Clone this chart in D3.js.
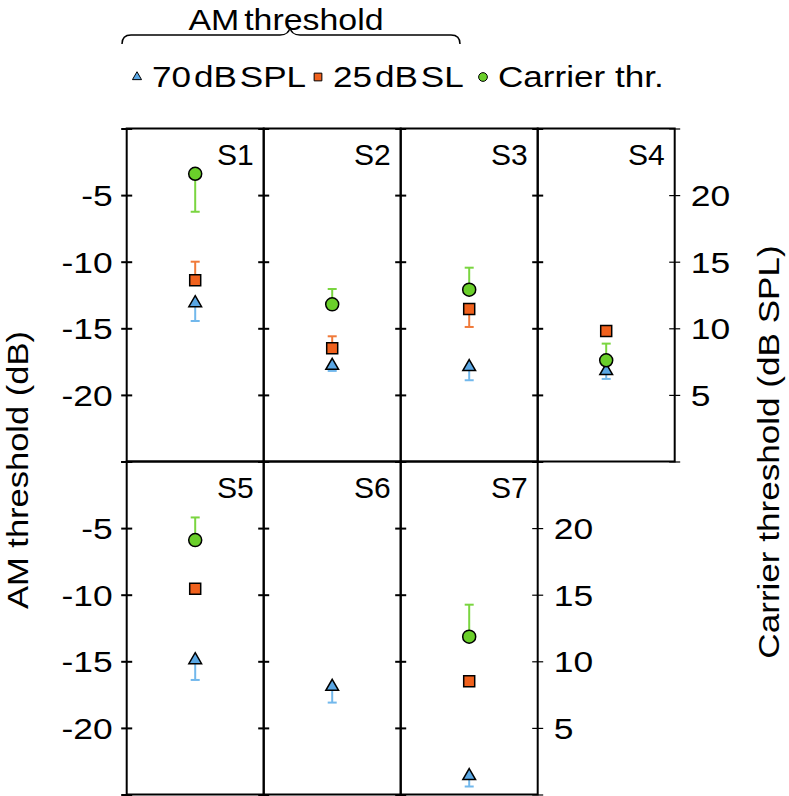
<!DOCTYPE html>
<html>
<head>
<meta charset="utf-8">
<script src="https://cdn.jsdelivr.net/npm/d3@7"></script>
<style>
  html, body { margin: 0; padding: 0; background: #fff; }
  svg { display: block; }
  text { font-family: "Liberation Sans", Arial, Helvetica, sans-serif; fill: #000; }
</style>
</head>
<body>
<svg id="chart" width="789" height="796"></svg>
<script>
// ---------------- data ----------------
const subjects = ["S1", "S2", "S3", "S4", "S5", "S6", "S7"];
// AM threshold at 70 dB SPL (dB, left axis) and error bar extent (signed, dB)
const am70 = [-13.1, -17.8, -17.9, -18.2, -14.9, -16.9, -23.6];
const am70Err = [-1.35, -0.4, -1.0, -0.6, -1.5, -1.2, -0.8];
// AM threshold at 25 dB SL (dB, left axis)
const am25 = [-11.4, -16.5, -13.55, -15.2, -9.55, null, -16.5];
const am25Err = [1.4, 0.9, -1.35, 0, 0, null, 0];
// Carrier threshold (dB SPL, right axis)
const carrier = [21.6, 11.8, 12.9, 7.6, 19.1, null, 11.85];
const carrierErr = [-2.85, 1.15, 1.65, 1.25, 1.7, null, 2.4];
// axis ticks
const leftTicks = [-20, -15, -10, -5];
const rightTicks = [5, 10, 15, 20];
const allTicks = [-25, -20, -15, -10, -5, 0];
const legendLabels = ["70\u200adB\u200aSPL", "25\u200adB\u200aSL", "Carrier thr."];
const legendTitle = "AM threshold";

// ---------------- styles ----------------
const col70 = "#5aa7e4", col70e = "#72b8ec";
const col25 = "#f0611d", col25e = "#f07a3a";
const colC = "#6acf2a", colCe = "#7ad540";
const fontSize = 30;

// horizontally widen text (reference glyphs are wider than Liberation Sans)
function stretch(sel, k) {
  sel.each(function () {
    const t = d3.select(this);
    const x = +(t.attr("x") || 0);
    t.attr("x", x / k).attr("transform", `scale(${k},1)`);
  });
}

// ---------------- layout ----------------
const svg = d3.select("#chart");
const leftX = 126.7, colW = 137, topY = 128.5, rowH = 333;
const nCols = 4;

const xBand = d3.scaleBand().domain(d3.range(nCols)).range([leftX, leftX + nCols * colW]).padding(0);
const yL = d3.scaleLinear().domain([-25, 0]).range([rowH, 0]);
const yR = d3.scaleLinear().domain([0, 25]).range([rowH, 0]);

const rowCount = r => r === 0 ? 4 : 3;

[0, 1].forEach(r => {
  const g = svg.append("g").attr("transform", `translate(0,${topY + r * rowH})`);
  const n = rowCount(r);
  for (let c = 0; c <= n; c++) {
    const ax = g.append("g").attr("transform", `translate(${leftX + c * colW},0)`)
      .call(d3.axisLeft(yL).tickValues(allTicks).tickSize(0).tickFormat(""));
    ax.select(".domain").remove();
    ax.selectAll(".tick line").attr("x1", -5.5).attr("x2", 5.5)
      .attr("stroke", "#000").attr("stroke-width", c === n ? 1.2 : 2);
  }
  const la = g.append("g").attr("transform", `translate(${leftX},0)`)
    .call(d3.axisLeft(yL).tickValues(leftTicks).tickSize(0).tickPadding(14).tickFormat(d => String(d)));
  la.select(".domain").remove();
  la.selectAll("text").style("font-size", fontSize + "px").attr("dy", "0.35em");
  stretch(la.selectAll("text"), 1.18);
  const ra = g.append("g").attr("transform", `translate(${leftX + n * colW},0)`)
    .call(d3.axisRight(yR).tickValues(rightTicks).tickSize(0).tickPadding(16).tickFormat(d => String(d)));
  ra.select(".domain").remove();
  ra.selectAll("text").style("font-size", fontSize + "px").attr("dy", "0.35em");
  stretch(ra.selectAll("text"), 1.18);
});

subjects.forEach((s, i) => {
  const r = i < 4 ? 0 : 1;
  const c = i < 4 ? i : i - 4;
  const x0 = xBand(c), y0 = topY + r * rowH;
  const g = svg.append("g").attr("transform", `translate(0,${y0})`);
  g.append("rect").attr("x", x0).attr("y", 0).attr("width", colW).attr("height", rowH)
    .attr("fill", "none").attr("stroke", "#000").attr("stroke-width", 2);
  g.append("text").attr("x", x0 + colW - 10).attr("y", 36).attr("text-anchor", "end")
    .style("font-size", fontSize + "px").text(s);

  const cx = x0 + xBand.bandwidth() / 2;
  const errBar = (v, e, scale, color) => {
    if (v === null || !e) return;
    g.append("line").attr("x1", cx).attr("x2", cx).attr("y1", scale(v)).attr("y2", scale(v + e))
      .attr("stroke", color).attr("stroke-width", 2);
    g.append("line").attr("x1", cx - 4.5).attr("x2", cx + 4.5).attr("y1", scale(v + e)).attr("y2", scale(v + e))
      .attr("stroke", color).attr("stroke-width", 2);
  };
  errBar(am70[i], am70Err[i], yL, col70e);
  errBar(am25[i], am25Err[i], yL, col25e);
  errBar(carrier[i], carrierErr[i], yR, colCe);

  if (am70[i] !== null)
    g.append("path").attr("d", d3.symbol(d3.symbolTriangle, 70)())
      .attr("transform", `translate(${cx},${yL(am70[i])})`)
      .attr("fill", col70).attr("stroke", "#000").attr("stroke-width", 1.5);
  if (am25[i] !== null)
    g.append("path").attr("d", d3.symbol(d3.symbolSquare, 121)())
      .attr("transform", `translate(${cx},${yL(am25[i])})`)
      .attr("fill", col25).attr("stroke", "#000").attr("stroke-width", 1.5);
  if (carrier[i] !== null)
    g.append("path").attr("d", d3.symbol(d3.symbolCircle, 133)())
      .attr("transform", `translate(${cx},${yR(carrier[i])})`)
      .attr("fill", colC).attr("stroke", "#000").attr("stroke-width", 1.5);
});

svg.append("text").attr("transform", `translate(28,470) rotate(-90) scale(1.15,1)`)
  .attr("text-anchor", "middle").style("font-size", fontSize + "px").text("AM threshold (dB)");
svg.append("text").attr("transform", `translate(768,452) rotate(-90) scale(1.17,1)`)
  .attr("text-anchor", "middle").attr("dy", "0.35em").style("font-size", fontSize + "px").text("Carrier threshold (dB SPL)");

const lt = svg.append("text").attr("x", 286).attr("y", 30).attr("text-anchor", "middle")
  .style("font-size", fontSize + "px").style("word-spacing", "-4px").text(legendTitle);
stretch(lt, 1.13);
svg.append("path")
  .attr("d", "M122,44 Q122,35 131,35 L280,35 Q289,35 290,27 Q291,35 300,35 L451,35 Q460,35 460,44")
  .attr("fill", "none").attr("stroke", "#000").attr("stroke-width", 1.5);

const legX = [137, 318, 483];
const legSym = [d3.symbolTriangle, d3.symbolSquare, d3.symbolCircle];
const legSize = [36, 60, 60];
const legCol = [col70, col25, colC];
const legY = 77;
legendLabels.forEach((lab, i) => {
  svg.append("path").attr("d", d3.symbol(legSym[i], legSize[i])())
    .attr("transform", `translate(${legX[i]},${legY})`)
    .attr("fill", legCol[i]).attr("stroke", "#000").attr("stroke-width", 1);
  const t = svg.append("text").attr("x", legX[i] + 15).attr("y", legY).attr("dy", "0.35em")
    .style("font-size", fontSize + "px").text(lab);
  stretch(t, 1.17);
});
</script>
</body>
</html>
